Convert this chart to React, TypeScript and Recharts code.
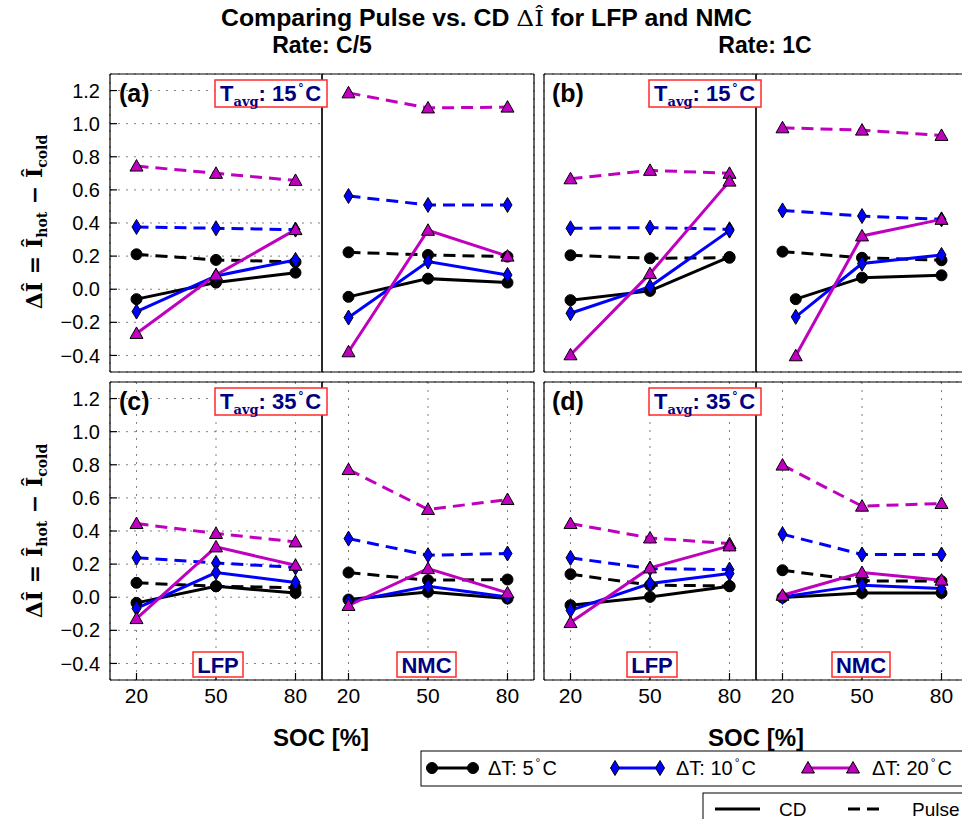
import React from 'react';
import { LineChart, Line, XAxis, YAxis, CartesianGrid } from 'recharts';

const SOC = [20, 50, 80];
const SOC_NMC_1C_CD = [25, 50, 80]; // CD points for NMC at 1C, 15 °C sit a bit to the right
const Y_TICKS = [-0.4, -0.2, 0, 0.2, 0.4, 0.6, 0.8, 1.0, 1.2];
const DELTA_T = ['5', '10', '20'];

// each row: ΔT = 5, 10, 20 °C ; each column: SOC 20, 50, 80
const LFP_C5_T15_CD = [[-0.06, 0.04, 0.10], [-0.135, 0.08, 0.177], [-0.267, 0.086, 0.36]];
const LFP_C5_T15_PULSE = [[0.211, 0.177, 0.165], [0.376, 0.368, 0.36], [0.744, 0.70, 0.657]];
const NMC_C5_T15_CD = [[-0.046, 0.064, 0.04], [-0.171, 0.167, 0.086], [-0.378, 0.356, 0.20]];
const NMC_C5_T15_PULSE = [[0.223, 0.207, 0.197], [0.563, 0.509, 0.509], [1.186, 1.095, 1.10]];
const LFP_1C_T15_CD = [[-0.066, -0.01, 0.195], [-0.145, 0.016, 0.354], [-0.396, 0.094, 0.653]];
const LFP_1C_T15_PULSE = [[0.205, 0.187, 0.19], [0.368, 0.372, 0.362], [0.667, 0.718, 0.70]];
const NMC_1C_T15_CD = [[-0.06, 0.07, 0.084], [-0.167, 0.155, 0.207], [-0.402, 0.322, 0.422]];
const NMC_1C_T15_PULSE = [[0.227, 0.19, 0.175], [0.476, 0.442, 0.422], [0.975, 0.961, 0.929]];
const LFP_C5_T35_CD = [[-0.034, 0.066, 0.026], [-0.068, 0.149, 0.089], [-0.129, 0.304, 0.193]];
const LFP_C5_T35_PULSE = [[0.087, 0.066, 0.058], [0.238, 0.207, 0.18], [0.445, 0.385, 0.334]];
const NMC_C5_T35_CD = [[-0.014, 0.032, -0.008], [-0.028, 0.066, 0.002], [-0.05, 0.173, 0.026]];
const NMC_C5_T35_PULSE = [[0.149, 0.103, 0.107], [0.354, 0.254, 0.264], [0.771, 0.53, 0.59]];
const LFP_1C_T35_CD = [[-0.048, 0.002, 0.066], [-0.079, 0.083, 0.143], [-0.153, 0.177, 0.31]];
const LFP_1C_T35_PULSE = [[0.139, 0.073, 0.068], [0.238, 0.173, 0.167], [0.445, 0.358, 0.324]];
const NMC_1C_T35_CD = [[-0.002, 0.026, 0.026], [0.002, 0.073, 0.052], [0.012, 0.149, 0.103]];
const NMC_1C_T35_PULSE = [[0.163, 0.099, 0.097], [0.381, 0.258, 0.258], [0.798, 0.55, 0.566]];

const COLORS = ['#000000', '#0000ff', '#bf00bf'];
const SANS = '"Liberation Sans", Arial, sans-serif';
const SERIF = '"DejaVu Serif", serif';
const NAVY = '#000080';
const BOX_RED = '#ff2a2a';

const PW = 212;
const PH = 298;
const AL = 60;
const AR = 10;
const AT = 10;
const AB = 40;

const fmt = (v: number) => (v < -1e-9 ? '\u2212' : '') + Math.abs(v).toFixed(1);

function markerShape(kind: number, cx: number, cy: number, key?: any) {
    if (kind === 0) {
        return <circle key={key} cx={cx} cy={cy} r={5.5} fill="#000" stroke="#000" strokeWidth={1} />;
    }
    if (kind === 1) {
        return (
            <polygon key={key} points={`${cx},${cy - 7.5} ${cx + 4.5},${cy} ${cx},${cy + 7.5} ${cx - 4.5},${cy}`}
                fill="#0000ff" stroke="#000" strokeWidth={1} />
        );
    }
    return (
        <polygon key={key} points={`${cx},${cy - 6.5} ${cx + 6.5},${cy + 5} ${cx - 6.5},${cy + 5}`}
            fill="#bf00bf" stroke="#000" strokeWidth={1} />
    );
}

const dotFor = (kind: number) => (props: any) => {
    const { cx, cy, index } = props;
    if (cx == null || cy == null) return <g key={`e-${index}`} />;
    return markerShape(kind, cx, cy, `m-${kind}-${index}`);
};

interface SubPanelProps {
    left: number;
    top: number;
    cd: number[][];
    pulse: number[][];
    cdSoc?: number[];
    yLabels?: boolean;
    xLabels?: boolean;
}

function SubPanel({ left, top, cd, pulse, cdSoc = SOC, yLabels, xLabels }: SubPanelProps) {
    const tickFont = { fill: '#000', fontSize: 20, fontFamily: SANS };
    return (
        <div style={{ position: 'absolute', left: left - AL, top: top - AT }}>
            <LineChart width={AL + PW + AR} height={AT + PH + AB} margin={{ top: 0, right: 0, bottom: 0, left: 0 }}>
                <CartesianGrid xAxisId="b" yAxisId="l" stroke="#808080" strokeDasharray="2 6" strokeWidth={1} />
                <XAxis xAxisId="b" orientation="bottom" type="number" dataKey="soc" domain={[10, 90]} ticks={SOC}
                    height={AB} tickSize={-7} tickMargin={15} interval={0} allowDataOverflow
                    axisLine={{ stroke: '#000', strokeWidth: 1.2 }} tickLine={{ stroke: '#000', strokeWidth: 1.2 }}
                    tick={xLabels ? { ...tickFont, fontSize: 21 } : false} />
                <XAxis xAxisId="t" orientation="top" type="number" dataKey="soc" domain={[10, 90]} ticks={SOC}
                    height={AT} tickSize={-7} interval={0} allowDataOverflow
                    axisLine={{ stroke: '#000', strokeWidth: 1.2 }} tickLine={{ stroke: '#000', strokeWidth: 1.2 }}
                    tick={false} />
                <YAxis yAxisId="l" orientation="left" type="number" domain={[-0.5, 1.3]} ticks={Y_TICKS}
                    width={AL} tickSize={-7} tickMargin={17} interval={0} allowDataOverflow tickFormatter={fmt}
                    axisLine={{ stroke: '#000', strokeWidth: 1.2 }} tickLine={{ stroke: '#000', strokeWidth: 1.2 }}
                    tick={yLabels ? tickFont : false} />
                <YAxis yAxisId="r" orientation="right" type="number" domain={[-0.5, 1.3]} ticks={Y_TICKS}
                    width={AR} tickSize={-7} interval={0} allowDataOverflow
                    axisLine={{ stroke: '#000', strokeWidth: 1.2 }} tickLine={{ stroke: '#000', strokeWidth: 1.2 }}
                    tick={false} />
                {pulse.map((row, i) => (
                    <Line key={`p-${i}`} xAxisId="b" yAxisId="l" data={SOC.map((s, j) => ({ soc: s, v: row[j] }))}
                        dataKey="v" stroke={COLORS[i]} strokeWidth={3} strokeDasharray="12 7"
                        dot={dotFor(i)} activeDot={false} isAnimationActive={false} type="linear" />
                ))}
                {cd.map((row, i) => (
                    <Line key={`c-${i}`} xAxisId="b" yAxisId="l" data={cdSoc.map((s, j) => ({ soc: s, v: row[j] }))}
                        dataKey="v" stroke={COLORS[i]} strokeWidth={3}
                        dot={dotFor(i)} activeDot={false} isAnimationActive={false} type="linear" />
                ))}
            </LineChart>
        </div>
    );
}

function TavgBox({ x, y, t }: { x: number; y: number; t: string }) {
    return (
        <g>
            <rect x={x} y={y} width={112} height={27} fill="#fff" stroke={BOX_RED} strokeWidth={1.5} />
            <text x={x + 5} y={y + 21} fill={NAVY} fontFamily={SANS} fontWeight="bold" fontSize={22}>
                T
                <tspan fontFamily={SERIF} fontSize={13} dy={5}>avg</tspan>
                <tspan dy={-5}>{`: ${t}`}</tspan>
                <tspan fontSize={12} dx={2} dy={-9}>°</tspan>
                <tspan dx={2} dy={9}>C</tspan>
            </text>
        </g>
    );
}

function NameBox({ x, y, w, label }: { x: number; y: number; w: number; label: string }) {
    return (
        <g>
            <rect x={x} y={y} width={w} height={25} fill="#fff" stroke={BOX_RED} strokeWidth={1.5} />
            <text x={x + w / 2} y={y + 20.5} textAnchor="middle" fill={NAVY} fontFamily={SANS} fontWeight="bold" fontSize={22}>
                {label}
            </text>
        </g>
    );
}

function YLabel({ cx, cy }: { cx: number; cy: number }) {
    return (
        <text transform={`translate(${cx},${cy}) rotate(-90)`} textAnchor="middle" fontFamily={SERIF}
            fontWeight="bold" fontSize={22} fill="#000">
            ΔÎ = Î<tspan fontSize={14} dy={5}>hot</tspan>
            <tspan dy={-5}> − Î</tspan>
            <tspan fontSize={14} dy={5}>cold</tspan>
        </text>
    );
}

function Overlay() {
    const legendRow = 768;
    const legendItems = [
        { x1: 432, x2: 473, tx: 488 },
        { x1: 615, x2: 660, tx: 676 },
        { x1: 808, x2: 853, tx: 872 },
    ];
    const bold = { fontFamily: SANS, fontWeight: 'bold' as const, fontSize: 23 };
    return (
        <svg width={962} height={819} style={{ position: 'absolute', left: 0, top: 0, pointerEvents: 'none' }}>
            <text x={221} y={26} textLength={531} lengthAdjust="spacingAndGlyphs" {...bold}>
                Comparing Pulse vs. CD <tspan fontFamily={SERIF} fontWeight="normal">ΔÎ</tspan> for LFP and NMC
            </text>
            <text x={322} y={53} textAnchor="middle" {...bold}>Rate: C/5</text>
            <text x={765} y={53} textAnchor="middle" {...bold}>Rate: 1C</text>

            <YLabel cx={42} cy={222} />
            <YLabel cx={42} cy={531} />

            <text x={119} y={102} fontFamily={SANS} fontWeight="bold" fontSize={25}>(a)</text>
            <text x={552} y={102} fontFamily={SANS} fontWeight="bold" fontSize={25}>(b)</text>
            <text x={119} y={410} fontFamily={SANS} fontWeight="bold" fontSize={25}>(c)</text>
            <text x={552} y={410} fontFamily={SANS} fontWeight="bold" fontSize={25}>(d)</text>

            <TavgBox x={215} y={80} t="15" />
            <TavgBox x={649} y={80} t="15" />
            <TavgBox x={215} y={388} t="35" />
            <TavgBox x={649} y={388} t="35" />

            <NameBox x={193} y={652} w={50} label="LFP" />
            <NameBox x={397} y={652} w={59} label="NMC" />
            <NameBox x={627} y={652} w={50} label="LFP" />
            <NameBox x={832} y={652} w={58} label="NMC" />

            <text x={321} y={746} textAnchor="middle" {...bold} fontSize={24}>SOC [%]</text>
            <text x={756} y={746} textAnchor="middle" {...bold} fontSize={24}>SOC [%]</text>

            <rect x={421} y={751} width={560} height={35} fill="#fff" stroke="#000" strokeWidth={1} />
            {legendItems.map((it, i) => (
                <g key={`lg-${i}`}>
                    <line x1={it.x1} x2={it.x2} y1={legendRow} y2={legendRow} stroke={COLORS[i]} strokeWidth={3} />
                    {markerShape(i, it.x1, legendRow)}
                    {markerShape(i, it.x2, legendRow)}
                    <text x={it.tx} y={legendRow + 7} fontFamily={SANS} fontSize={20}>
                        ΔT: {DELTA_T[i]}
                        <tspan fontSize={12} dx={2} dy={-8}>°</tspan>
                        <tspan dx={2} dy={8}>C</tspan>
                    </text>
                </g>
            ))}

            <rect x={703} y={793} width={300} height={40} fill="#fff" stroke="#000" strokeWidth={1} />
            <line x1={715} x2={760} y1={809} y2={809} stroke="#000" strokeWidth={3} />
            <text x={779} y={816} fontFamily={SANS} fontSize={19}>CD</text>
            <line x1={848} x2={884} y1={809} y2={809} stroke="#000" strokeWidth={3} strokeDasharray="12 7" />
            <text x={912} y={816} fontFamily={SANS} fontSize={19}>Pulse</text>
        </svg>
    );
}

export default function App() {
    return (
        <div style={{ position: 'absolute', left: 0, top: 0, width: 962, height: 819, overflow: 'hidden', background: '#fff' }}>
            <SubPanel left={110} top={74} cd={LFP_C5_T15_CD} pulse={LFP_C5_T15_PULSE} yLabels />
            <SubPanel left={322} top={74} cd={NMC_C5_T15_CD} pulse={NMC_C5_T15_PULSE} />
            <SubPanel left={544} top={74} cd={LFP_1C_T15_CD} pulse={LFP_1C_T15_PULSE} />
            <SubPanel left={756} top={74} cd={NMC_1C_T15_CD} pulse={NMC_1C_T15_PULSE} cdSoc={SOC_NMC_1C_CD} />
            <SubPanel left={110} top={382} cd={LFP_C5_T35_CD} pulse={LFP_C5_T35_PULSE} yLabels xLabels />
            <SubPanel left={322} top={382} cd={NMC_C5_T35_CD} pulse={NMC_C5_T35_PULSE} xLabels />
            <SubPanel left={544} top={382} cd={LFP_1C_T35_CD} pulse={LFP_1C_T35_PULSE} xLabels />
            <SubPanel left={756} top={382} cd={NMC_1C_T35_CD} pulse={NMC_1C_T35_PULSE} xLabels />
            <Overlay />
        </div>
    );
}
